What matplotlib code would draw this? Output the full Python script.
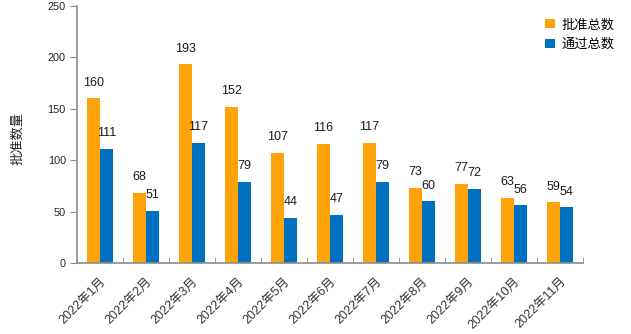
import numpy as np
import matplotlib.pyplot as plt

plt.rcParams['font.family'] = ['Liberation Sans', 'Noto Sans CJK SC', 'DejaVu Sans']

months = ["2022年1月", "2022年2月", "2022年3月", "2022年4月", "2022年5月", "2022年6月",
          "2022年7月", "2022年8月", "2022年9月", "2022年10月", "2022年11月"]
approved = [160, 68, 193, 152, 107, 116, 117, 73, 77, 63, 59]
passed = [111, 51, 117, 79, 44, 47, 79, 60, 72, 56, 54]

orange = "#FFA30A"
blue = "#0070C0"
gray = "#8C8C8C"

fig = plt.figure(figsize=(6.31, 3.34), dpi=100)
ax = fig.add_axes([0.122, 0.2126, 0.802, 0.77])

x = np.arange(len(months))
w = 0.283
b1 = ax.bar(x - w / 2, approved, w, color=orange, label="批准总数")
b2 = ax.bar(x + w / 2, passed, w, color=blue, label="通过总数")

for bars in (b1, b2):
    for r in bars:
        ax.annotate(str(int(r.get_height())), (r.get_x() + r.get_width() / 2, r.get_height()),
                    xytext=(0, 7), textcoords="offset points", ha="center", va="bottom",
                    fontsize=9, color="#1a1a1a")

ax.set_xlim(-0.5, len(months) - 0.5)
ax.set_ylim(0, 250)
ax.set_yticks(range(0, 251, 50))
ax.set_xticks(x)
ax.set_xticklabels(months, rotation=45, ha="right", rotation_mode="anchor", fontsize=9, color="#333333")
ax.set_xticks(np.arange(-0.5, len(months)), minor=True)
ax.tick_params(axis="x", which="major", length=0, pad=9)
ax.tick_params(axis="x", which="minor", length=4, color=gray, direction="in")
ax.tick_params(axis="y", length=5, color=gray, labelsize=7.8, labelcolor="#222222", pad=3)

for s in ("top", "right"):
    ax.spines[s].set_visible(False)
for s in ("left", "bottom"):
    ax.spines[s].set_color(gray)
    ax.spines[s].set_linewidth(1.2)

fig.text(0.028, 0.585, "批准数量", rotation=90, ha="center", va="center", fontsize=9.5, color="#222222")

ax.legend(loc="upper right", bbox_to_anchor=(1.085, 0.995), frameon=False, fontsize=9.5,
          handlelength=0.7, handleheight=0.7, handletextpad=0.5, labelspacing=0.55)

fig.savefig("out.png", dpi=100)
